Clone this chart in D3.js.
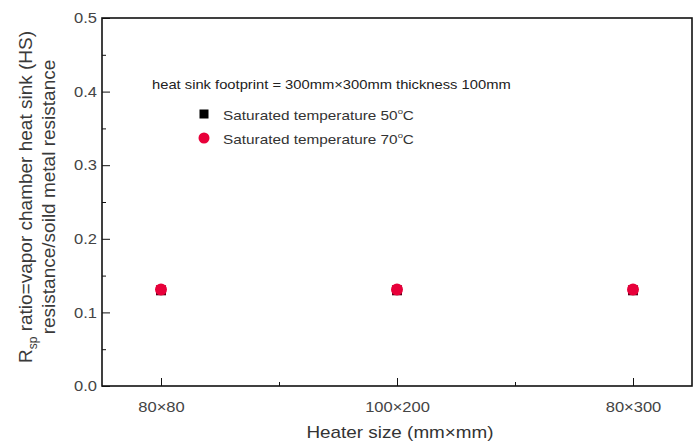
<!DOCTYPE html>
<html><head><meta charset="utf-8">
<script src="https://cdn.jsdelivr.net/npm/d3@7"></script>
<style>body{margin:0;background:#fff;} text{font-family:"Liberation Sans",Arial,sans-serif;}</style>
</head><body><svg id="c" width="699" height="445"></svg>
<script>
const categories = ["80×80", "100×200", "80×300"];
const series50 = [0.130, 0.130, 0.130];
const series70 = [0.131, 0.131, 0.131];
const yTicks = [0.0, 0.1, 0.2, 0.3, 0.4, 0.5];
const legendLabels = ["Saturated temperature 50", "Saturated temperature 70"];

const K = 1.18; // horizontal stretch of the original image
const svg = d3.select("#c");
const L = 102, R = 692, T = 18, B = 386;
const x = d3.scaleLinear().domain([-0.25, 2.25]).range([L, R]);
const y = d3.scaleLinear().domain([0, 0.5]).range([B, T]);

function stretchTicks(sel) {
  sel.each(function () {
    const t = d3.select(this);
    const xx = +t.attr("x") || 0;
    t.attr("x", xx / K).attr("transform", `scale(${K},1)`);
  });
}
function label(px, py, size) {
  return svg.append("text").attr("transform", `translate(${px},${py}) scale(${K},1)`)
    .attr("font-size", size);
}

// frame
svg.append("rect").attr("x", L).attr("y", T).attr("width", R - L).attr("height", B - T)
  .attr("fill", "none").attr("stroke", "#111").attr("stroke-width", 1.6);

// y axis
const ya = svg.append("g").attr("transform", `translate(${L},0)`)
  .call(d3.axisLeft(y).tickValues(yTicks).tickFormat(d3.format(".1f")).tickSize(-8).tickPadding(5));
ya.select(".domain").remove();
ya.selectAll("text").attr("font-size", 14).attr("fill", "#444").attr("dy", "0.34em");
stretchTicks(ya.selectAll("text"));
ya.selectAll("line").attr("stroke", "#111");
const yb = svg.append("g").attr("transform", `translate(${L},0)`)
  .call(d3.axisLeft(y).tickValues(d3.range(0.05, 0.5, 0.1)).tickFormat("").tickSize(-4));
yb.select(".domain").remove();
yb.selectAll("line").attr("stroke", "#111");

// x axis
const xa = svg.append("g").attr("transform", `translate(0,${B})`)
  .call(d3.axisBottom(x).tickValues([0, 1, 2]).tickFormat(i => categories[i]).tickSize(-8).tickPadding(16));
xa.select(".domain").remove();
xa.selectAll("text").attr("font-size", 14).attr("fill", "#444");
stretchTicks(xa.selectAll("text"));
xa.selectAll("line").attr("stroke", "#111");
const xb = svg.append("g").attr("transform", `translate(0,${B})`)
  .call(d3.axisBottom(x).tickValues([0.5, 1.5]).tickFormat("").tickSize(-4));
xb.select(".domain").remove();
xb.selectAll("line").attr("stroke", "#111");

// axis titles
label(400, 438, 16).attr("text-anchor", "middle").attr("fill", "#333").text("Heater size (mm×mm)");
const yt = svg.append("text").attr("transform", "translate(32,197) rotate(-90)")
  .attr("text-anchor", "middle").attr("font-size", 19).attr("fill", "#3a3a3a");
yt.append("tspan").text("R");
yt.append("tspan").attr("font-size", 12).attr("dy", 5).text("sp");
yt.append("tspan").attr("dy", -5).text(" ratio=vapor chamber heat sink (HS)");
svg.append("text").attr("transform", "translate(55,197) rotate(-90)")
  .attr("text-anchor", "middle").attr("font-size", 19).attr("fill", "#3a3a3a")
  .text("resistance/soild metal resistance");

// data
const s = 10;
svg.selectAll(".sq").data(series50).enter().append("rect")
  .attr("x", (d, i) => x(i) - s / 2).attr("y", d => y(d) - s / 2)
  .attr("width", s).attr("height", s).attr("fill", "#5a0018");
svg.selectAll(".ci").data(series70).enter().append("circle")
  .attr("cx", (d, i) => x(i)).attr("cy", d => y(d)).attr("r", 6).attr("fill", "#e8003a");

// legend
label(152, 88.5, 12.5).attr("fill", "#222").text("heat sink footprint = 300mm×300mm thickness 100mm");
svg.append("rect").attr("x", 199.5).attr("y", 109.5).attr("width", 9).attr("height", 9).attr("fill", "#000");
svg.append("circle").attr("cx", 204).attr("cy", 138).attr("r", 5.5).attr("fill", "#e8003a");
[114, 138].forEach((yy, i) => {
  const t = label(223, yy + 6, 13).attr("fill", "#333");
  t.append("tspan").text(legendLabels[i]);
  t.append("tspan").attr("font-size", 8).attr("dy", -6).text("o");
  t.append("tspan").attr("dy", 6).text("C");
});
</script></body></html>
